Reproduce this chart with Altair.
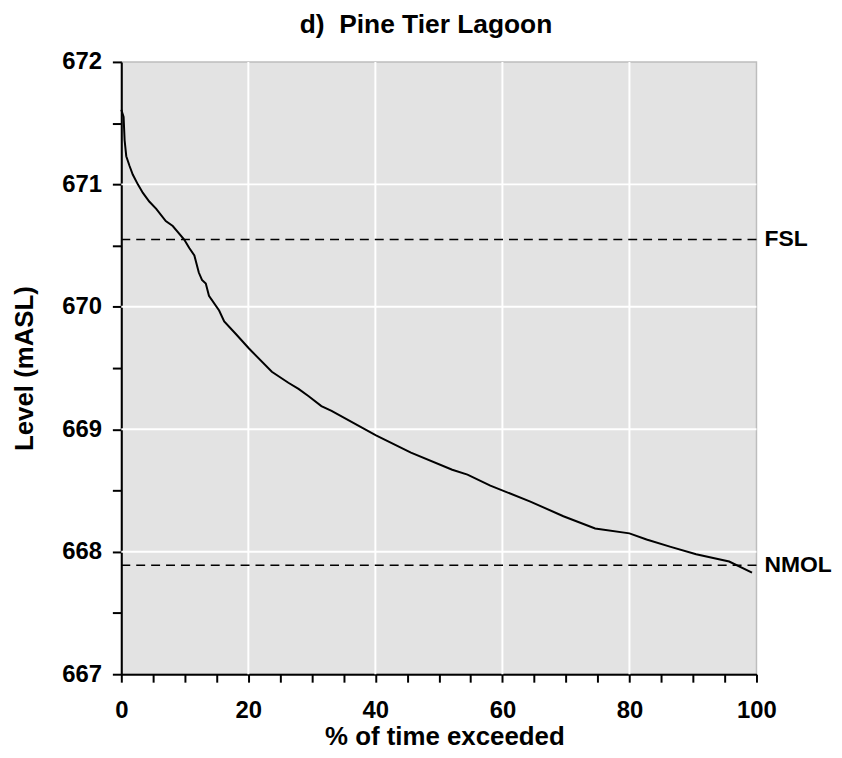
import altair as alt
import pandas as pd

# Exceedance curve
pct = [0, 0.36, 0.52, 0.78, 1.3, 1.8, 2.6, 3.4, 4.4, 5.5, 7.0, 8.1, 9.9, 10.7, 11.5,
       12.2, 12.7, 13.3, 13.8, 15.4, 16.2, 18.0, 20.1, 23.7, 26.3, 27.9, 29.5, 31.5,
       33.1, 40.1, 45.6, 52.1, 54.5, 58.1, 64.4, 69.6, 74.6, 80.0, 82.7, 86.5, 90.5,
       95.7, 99.3]
level = [671.61, 671.55, 671.36, 671.23, 671.15, 671.08, 671.00, 670.93, 670.86, 670.80,
         670.70, 670.66, 670.55, 670.48, 670.42, 670.28, 670.22, 670.19, 670.09, 669.97,
         669.88, 669.78, 669.66, 669.47, 669.38, 669.33, 669.27, 669.19, 669.15, 668.95,
         668.81, 668.67, 668.63, 668.54, 668.41, 668.29, 668.19, 668.15, 668.10, 668.04,
         667.98, 667.92, 667.83]

x_ticks = list(range(0, 101, 5))
y_ticks = [667 + 0.5 * i for i in range(11)]
x_grid = [20, 40, 60, 80]
y_grid = [668, 669, 670, 671]
ref_names = ["FSL", "NMOL"]
ref_levels = [670.55, 667.89]
x_max = 100

FONT = "Liberation Sans"

curve = pd.DataFrame({"pct": pct, "level": level})
grid_df = pd.DataFrame({"gx": x_grid, "gy": y_grid})
refs = pd.DataFrame({"name": ref_names, "level": ref_levels, "pct": [x_max] * len(ref_names)})

xscale = alt.Scale(domain=[0, 100], nice=False, zero=False)
yscale = alt.Scale(domain=[667, 672], nice=False, zero=False)

x_axis = alt.Axis(
    values=x_ticks, labelExpr="datum.value % 20 === 0 ? format(datum.value, 'd') : ''",
    grid=False, domainColor="black", domainWidth=2, tickColor="black", tickWidth=2,
    tickSize=8, labelFontSize=24, labelFontWeight="bold", labelFont=FONT,
    labelColor="black", labelPadding=17, labelFlush=False, labelOverlap=False,
    title="% of time exceeded", titleFontSize=26, titleFont=FONT,
    titleFontWeight="bold", titleColor="black", titleX=325, titleY=71,
    titleBaseline="alphabetic", titleAlign="center",
)
y_axis = alt.Axis(
    values=y_ticks, labelExpr="datum.value % 1 === 0 ? format(datum.value, 'd') : ''",
    grid=False, domainColor="black", domainWidth=2, tickColor="black", tickWidth=2,
    tickSize=9, labelFontSize=24, labelFontWeight="bold", labelFont=FONT,
    labelColor="black", labelPadding=11, labelFlush=False, labelOverlap=False,
    title="Level (mASL)", titleFontSize=26, titleFont=FONT, titleFontWeight="bold",
    titleColor="black", titleX=-89, titleY=308, titleAngle=270,
    titleBaseline="alphabetic", titleAlign="center",
)

X = lambda f: alt.X(f, type="quantitative", scale=xscale, axis=x_axis)
Y = lambda f: alt.Y(f, type="quantitative", scale=yscale, axis=y_axis)

line = alt.Chart(curve).mark_line(color="black", strokeWidth=2).encode(
    x=X("pct"), y=Y("level"), order="pct:Q")

grid_x = alt.Chart(grid_df).mark_rule(color="white", strokeWidth=2).encode(x=X("gx"))
grid_y = alt.Chart(grid_df).mark_rule(color="white", strokeWidth=2).encode(y=Y("gy"))

ref_lines = alt.Chart(refs).mark_rule(
    color="black", strokeWidth=1.5, strokeDash=[9, 6]).encode(y=Y("level"))

ref_text = alt.Chart(refs).mark_text(
    align="left", baseline="middle", dx=8, fontSize=23, fontWeight="bold",
    font=FONT, color="black").encode(x=X("pct"), y=Y("level"), text="name:N")

chart = alt.layer(grid_x, grid_y, ref_lines, line, ref_text).properties(
    width=639, height=616,
    title=alt.TitleParams(
        text="d)\u00a0\u00a0Pine Tier Lagoon", fontSize=26.5, fontWeight="bold",
        font=FONT, anchor="middle", frame="group", baseline="alphabetic",
        offset=-9, dx=-13, color="black"),
    autosize=alt.AutoSizeParams(type="none"),
    padding={"left": 114, "top": 52, "right": 78, "bottom": 74},
).configure_view(fill="#e3e3e3", stroke="#bdbdbd", strokeWidth=1.5)

chart.save("out.html", embed_options={"renderer": "svg", "actions": False})
